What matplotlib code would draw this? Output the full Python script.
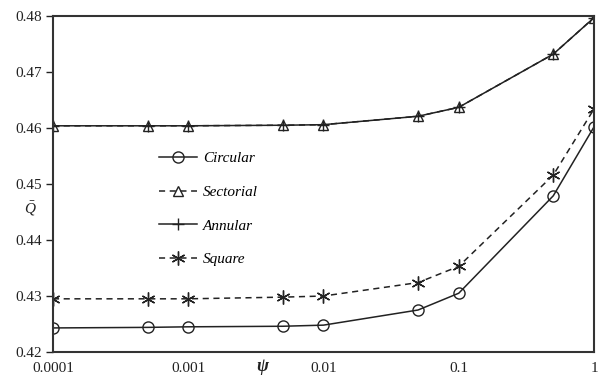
import matplotlib
matplotlib.use("Agg")
import matplotlib.pyplot as plt
from matplotlib.ticker import FixedLocator, FixedFormatter, NullLocator

plt.rcParams['font.family'] = ['Liberation Serif', 'DejaVu Serif']
plt.rcParams['mathtext.fontset'] = 'custom'
plt.rcParams['mathtext.it'] = 'Liberation Serif:italic'
plt.rcParams['mathtext.bf'] = 'Liberation Serif:bold:italic'
plt.rcParams['mathtext.rm'] = 'Liberation Serif'

psi = [0.0001, 0.0005, 0.001, 0.005, 0.01, 0.05, 0.1, 0.5, 1]
circular = [0.4243, 0.4244, 0.4245, 0.4246, 0.4248, 0.4275, 0.4305, 0.4479, 0.4602]
sectorial = [0.4604, 0.4604, 0.4604, 0.4605, 0.4606, 0.4621, 0.4637, 0.4732, 0.4797]
annular = [0.4604, 0.4604, 0.4604, 0.4605, 0.4606, 0.4621, 0.4637, 0.4732, 0.4797]
square = [0.4295, 0.4295, 0.4295, 0.4298, 0.4300, 0.4324, 0.4353, 0.4516, 0.4634]
xticks = [0.0001, 0.001, 0.01, 0.1, 1]
xticklabels = ['0.0001', '0.001', '0.01', '0.1', '1']
yticks = [0.42, 0.43, 0.44, 0.45, 0.46, 0.47, 0.48]

fig = plt.figure(figsize=(5.98, 3.82), dpi=100)
ax = fig.add_axes([0.0886, 0.0785, 0.9047, 0.8795])

c = '#222222'
ax.plot(psi, circular, '-', color=c, lw=1.1, marker='o', ms=8, mfc='none', mec=c, mew=1.0, label='Circular')
ax.plot(psi, sectorial, '--', color=c, lw=1.1, marker='^', ms=7, mfc='none', mec=c, mew=1.0, label='Sectorial', dashes=(4, 3))
ax.plot(psi, annular, '-', color=c, lw=1.1, marker='+', ms=9, mec=c, mew=1.0, label='Annular')
ax.plot(psi, square, '--', color=c, lw=1.1, marker=(6, 2, 0), ms=10, mec=c, mew=1.0, label='Square', dashes=(4, 3))

ax.set_xscale('log')
ax.set_xlim(0.0001, 1)
ax.set_ylim(0.42, 0.48)
ax.xaxis.set_major_locator(FixedLocator(xticks))
ax.xaxis.set_major_formatter(FixedFormatter(xticklabels))
ax.xaxis.set_minor_locator(NullLocator())
ax.set_yticks(yticks)
ax.set_yticklabels(['%.2f' % v for v in yticks])
ax.tick_params(axis='y', direction='out', length=5, width=1, labelsize=11, colors=c, pad=3)
ax.tick_params(axis='x', direction='out', length=0, labelsize=11, colors=c, pad=7)
for s in ax.spines.values():
    s.set_linewidth(1.5)
    s.set_color('#333333')

ax.text(0.389, -0.046, r'$\mathbf{\psi}$', transform=ax.transAxes, ha='center', va='center', fontsize=13,
        color=c)
ax.text(-0.042, 0.428, r'$\bar{Q}$', transform=ax.transAxes,
        ha='center', va='center', fontsize=11, color=c)

leg = ax.legend(loc='upper left', bbox_to_anchor=(0.17, 0.637), frameon=False,
                prop={'style': 'italic', 'size': 11, 'family': 'Liberation Serif'},
                handlelength=2.5, labelspacing=1.3, handletextpad=0.4)

fig.savefig('out.png', dpi=100)
